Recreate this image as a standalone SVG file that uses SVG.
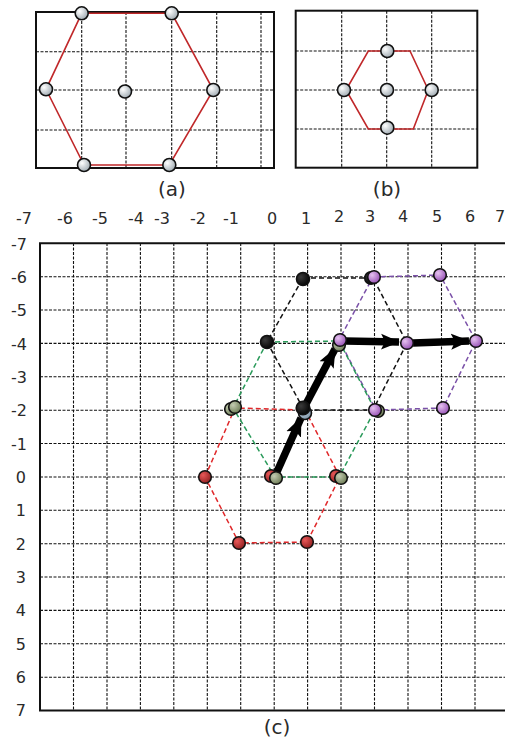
<svg xmlns="http://www.w3.org/2000/svg" width="505" height="738" viewBox="0 0 505 738">
<defs>
<radialGradient id="gGray" cx="0.35" cy="0.35" r="0.75"><stop offset="0" stop-color="#ffffff"/><stop offset="1" stop-color="#98a4ac"/></radialGradient>
<radialGradient id="gRed" cx="0.35" cy="0.35" r="0.75"><stop offset="0" stop-color="#e85858"/><stop offset="1" stop-color="#8a1c1c"/></radialGradient>
<radialGradient id="gGreen" cx="0.35" cy="0.35" r="0.75"><stop offset="0" stop-color="#c4ccb2"/><stop offset="1" stop-color="#66764e"/></radialGradient>
<radialGradient id="gPurple" cx="0.35" cy="0.35" r="0.75"><stop offset="0" stop-color="#e6c2f0"/><stop offset="1" stop-color="#9048b0"/></radialGradient>
<radialGradient id="gBlack" cx="0.35" cy="0.35" r="0.75"><stop offset="0" stop-color="#3a3a3a"/><stop offset="1" stop-color="#000000"/></radialGradient>
<radialGradient id="gBlue" cx="0.35" cy="0.35" r="0.75"><stop offset="0" stop-color="#c4d4e0"/><stop offset="1" stop-color="#7890a4"/></radialGradient>
<marker id="ah" markerUnits="userSpaceOnUse" markerWidth="20" markerHeight="20" viewBox="0 0 20 20" refX="18" refY="10" orient="auto"><path d="M0,2 L19,10 L0,18 L4,10 Z" fill="#000"/></marker>
</defs>
<style>
.grid{stroke:#111;stroke-width:1.1;stroke-dasharray:3,1.5;fill:none}
.frame{stroke:#111;stroke-width:2;fill:none}
.hexa{stroke:#c0282a;stroke-width:1.6;fill:none}
.hd{stroke-width:1.5;stroke-dasharray:5,3;fill:none}
.r{stroke:#e0282a}.g{stroke:#2a9a5a}.k{stroke:#111}.p{stroke:#7a50a8}
.arr{stroke:#000;stroke-width:7.5;fill:none;marker-end:url(#ah)}
.d{stroke:#111;stroke-width:1.6}
.t{font-family:"DejaVu Sans",Verdana,sans-serif;fill:#2a2a2a}
.ax{font-size:16px}
.cap{font-size:20px;text-anchor:middle}
</style>

<!-- Panel (a) -->
<g id="panel-a">
<rect class="frame" x="36" y="12" width="238" height="156"/>
<path class="grid" d="M81.7,12V168M126,12V168M171.7,12V168M216.7,12V168M261,12V168M36,51.7H274M36,90H274M36,130H274"/>
<polygon class="hexa" points="81.7,13.3 171.7,13.3 213.3,90 169.3,165 84,165 46,89.3"/>
</g>
<g id="a-n1"><circle class="d" cx="81.7" cy="13.3" r="6.5" fill="url(#gGray)"/></g>
<g id="a-n2"><circle class="d" cx="171.7" cy="13.3" r="6.5" fill="url(#gGray)"/></g>
<g id="a-n3"><circle class="d" cx="46" cy="89.3" r="6.5" fill="url(#gGray)"/></g>
<g id="a-n4"><circle class="d" cx="125" cy="91.5" r="6.5" fill="url(#gGray)"/></g>
<g id="a-n5"><circle class="d" cx="213.3" cy="90" r="6.5" fill="url(#gGray)"/></g>
<g id="a-n6"><circle class="d" cx="84" cy="165" r="6.5" fill="url(#gGray)"/></g>
<g id="a-n7"><circle class="d" cx="169.3" cy="165" r="6.5" fill="url(#gGray)"/></g>
<text class="t cap" x="172" y="196">(a)</text>

<!-- Panel (b) -->
<g id="panel-b">
<rect class="frame" x="295.7" y="10.7" width="181.6" height="157"/>
<path class="grid" d="M341.7,10.7V167.7M386.7,10.7V167.7M431.7,10.7V167.7M295.7,51H477.3M295.7,90H477.3M295.7,129H477.3"/>
<polygon class="hexa" points="368.3,51 410,51 428.3,90 413.3,129 368.3,129 346,90"/>
</g>
<g id="b-n1"><circle class="d" cx="387.3" cy="51" r="6.5" fill="url(#gGray)"/></g>
<g id="b-n2"><circle class="d" cx="344" cy="90" r="6.5" fill="url(#gGray)"/></g>
<g id="b-n3"><circle class="d" cx="387" cy="90" r="6.5" fill="url(#gGray)"/></g>
<g id="b-n4"><circle class="d" cx="431.7" cy="90" r="6.5" fill="url(#gGray)"/></g>
<g id="b-n5"><circle class="d" cx="387.3" cy="127.7" r="6.5" fill="url(#gGray)"/></g>
<text class="t cap" x="387" y="196">(b)</text>

<!-- Panel (c) axis labels -->
<g id="x-labels" class="t ax" text-anchor="middle">
<text x="24" y="224">-7</text><text x="65" y="224">-6</text><text x="100" y="224">-5</text><text x="136" y="224">-4</text><text x="162" y="224">-3</text><text x="198" y="224">-2</text><text x="231" y="224">-1</text><text x="272" y="224">0</text><text x="306" y="224">1</text><text x="339" y="222">2</text><text x="370" y="222">3</text><text x="403" y="222">4</text><text x="437" y="222">5</text><text x="470" y="222">6</text><text x="500" y="222">7</text>
</g>
<g id="y-labels" class="t ax" text-anchor="end">
<text x="27" y="250">-7</text><text x="27" y="283">-6</text><text x="27" y="316">-5</text><text x="27" y="350">-4</text><text x="27" y="383">-3</text><text x="27" y="416">-2</text><text x="27" y="450">-1</text><text x="26" y="483">0</text><text x="26" y="516">1</text><text x="26" y="550">2</text><text x="26" y="583">3</text><text x="26" y="616">4</text><text x="26" y="650">5</text><text x="26" y="683">6</text><text x="26" y="716">7</text>
</g>

<!-- Panel (c) grid -->
<g id="grid-c">
<path class="grid" d="M73.5,243V710M107,243V710M140.4,243V710M173.8,243V710M207.3,243V710M240.7,243V710M274.2,243V710M307.6,243V710M341,243V710M374.5,243V710M408,243V710M441.5,243V710M475,243V710
M40,276.7H505M40,310H505M40,343.4H505M40,376.8H505M40,410.2H505M40,443.5H505M40,477H505M40,510.3H505M40,543.7H505M40,577H505M40,610.4H505M40,643.8H505M40,677.2H505"/>
<path class="frame" d="M505,243.3H40V710.5H505"/>
</g>

<!-- connectors -->
<g id="connectors">
<g id="hex-red" class="hd r"><polygon points="205,477 235,408 305,410 340,477 307,542 239,543"/></g>
<g id="hex-black" class="hd k"><polygon points="303,278 373,278 407,343 373,410 304,410 267,342"/></g>
<g id="hex-purple" class="hd p"><polygon points="373,277 440,275 476,341 443,408 376,410 339,340"/></g>
<g id="hex-green" class="hd g"><polygon points="267,342 339,341 375,410 339,477 275,477 233,408"/></g>
<line class="arr" x1="276" y1="474" x2="301" y2="418"/>
<line class="arr" x1="306" y1="404" x2="335" y2="349"/>
<line class="arr" x1="345" y1="341" x2="399" y2="342"/>
<line class="arr" x1="413" y1="343" x2="469" y2="341"/>
</g>

<!-- nodes (c) -->
<g id="c-red1"><circle class="d" cx="205" cy="477" r="6.3" fill="url(#gRed)"/></g>
<g id="c-red2"><circle class="d" cx="239" cy="543" r="6.3" fill="url(#gRed)"/></g>
<g id="c-red3"><circle class="d" cx="307" cy="542" r="6.3" fill="url(#gRed)"/></g>
<g id="c-mid0"><circle class="d" cx="271" cy="476" r="6.3" fill="url(#gRed)"/><circle class="d" cx="276" cy="478" r="6.3" fill="url(#gGreen)"/></g>
<g id="c-mid1"><circle class="d" cx="336" cy="476" r="6.3" fill="url(#gRed)"/><circle class="d" cx="341" cy="478" r="6.3" fill="url(#gGreen)"/></g>
<g id="c-g1"><circle class="d" cx="231" cy="409" r="6.3" fill="url(#gGreen)"/><circle class="d" cx="235" cy="407" r="6.3" fill="url(#gGreen)"/></g>
<g id="c-b1"><circle class="d" cx="305" cy="413" r="6.5" fill="url(#gBlue)"/><circle class="d" cx="303" cy="408" r="6.8" fill="url(#gBlack)"/></g>
<g id="c-b2"><circle class="d" cx="267" cy="342" r="6.5" fill="url(#gBlack)"/></g>
<g id="c-b3"><circle class="d" cx="303" cy="279" r="6.5" fill="url(#gBlack)"/></g>
<g id="c-p1"><circle class="d" cx="339" cy="345" r="6.3" fill="url(#gGreen)"/><circle class="d" cx="340" cy="340" r="6.3" fill="url(#gPurple)"/></g>
<g id="c-p2"><circle class="d" cx="371" cy="278" r="6.3" fill="url(#gBlack)"/><circle class="d" cx="374" cy="277" r="6.3" fill="url(#gPurple)"/></g>
<g id="c-p3"><circle class="d" cx="378" cy="411" r="6.3" fill="url(#gGreen)"/><circle class="d" cx="375" cy="410" r="6.3" fill="url(#gPurple)"/></g>
<g id="c-p4"><circle class="d" cx="440" cy="275" r="6.3" fill="url(#gPurple)"/></g>
<g id="c-p5"><circle class="d" cx="407" cy="343" r="6.3" fill="url(#gPurple)"/></g>
<g id="c-p6"><circle class="d" cx="476" cy="341" r="6.3" fill="url(#gPurple)"/></g>
<g id="c-p7"><circle class="d" cx="443" cy="408" r="6.3" fill="url(#gPurple)"/></g>
<text class="t cap" x="277" y="734">(c)</text>
</svg>
